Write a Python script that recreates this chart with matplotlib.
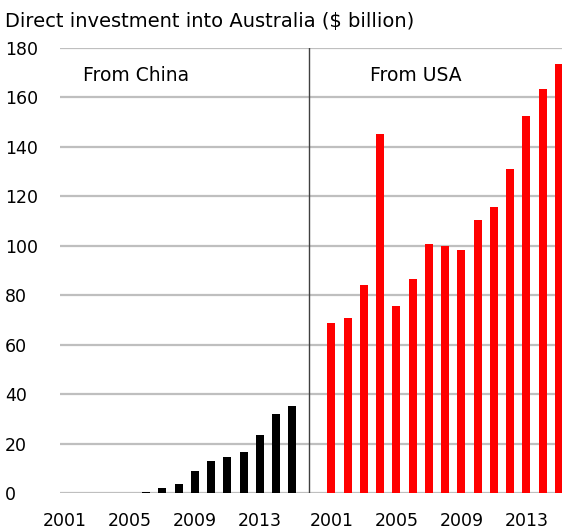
import matplotlib
matplotlib.use("Agg")
import matplotlib.pyplot as plt
import numpy as np

plt.rcParams['font.family'] = ['DejaVu Sans']

years = list(range(2001, 2016))
china = [0, 0, 0, 0, 0, 0.6, 2.2, 3.7, 9.1, 13.0, 14.5, 16.7, 23.6, 32.0, 35.3]
usa = [68.8, 70.6, 84.0, 145.2, 75.6, 86.4, 100.8, 99.8, 98.2, 110.4, 115.5, 130.9, 152.5, 163.4, 173.5]
tick_years = [2001, 2005, 2009, 2013]

usa_offset = 16.4
x_china = np.arange(len(years))
x_usa = x_china + usa_offset

W, H = 562, 531
fs = 12.5
fig = plt.figure(figsize=(W / 100, H / 100), dpi=100)
ax = fig.add_axes([60 / W, 38 / H, 502 / W, 445 / H])

ax.bar(x_china, china, width=0.5, color='black', zorder=3)
ax.bar(x_usa, usa, width=0.5, color='#ff0000', zorder=3)

ax.set_xlim(-0.3, -0.3 + 502 / 16.25)
ax.set_ylim(0, 180)
ax.set_yticks(range(0, 181, 20))
ax.yaxis.grid(True, color='#bfbfbf', lw=1.6, zorder=0)
ax.set_axisbelow(True)

# divider between the two panels
ax.axvline(15, color='#404040', lw=1, zorder=2)

ticks = [years.index(y) for y in tick_years] + [years.index(y) + usa_offset for y in tick_years]
ax.set_xticks(ticks)
ax.set_xticklabels([str(y) for y in tick_years] * 2, fontsize=fs)
ax.tick_params(axis='x', length=0, pad=14)
ax.tick_params(axis='y', length=0, pad=39.5, labelsize=fs)
for lbl in ax.get_yticklabels():
    lbl.set_horizontalalignment('left')

for s in ['top', 'right', 'left', 'bottom']:
    ax.spines[s].set_visible(False)

fig.text(83 / W, 1 - 76 / H, 'From China', fontsize=13.5, va='center', ha='left')
fig.text(370 / W, 1 - 76 / H, 'From USA', fontsize=13.5, va='center', ha='left')

fig.text(5 / W, 1 - 21 / H, 'Direct investment into Australia ($ billion)',
         fontsize=14, va='center', ha='left')

fig.savefig('out.png', dpi=100)
